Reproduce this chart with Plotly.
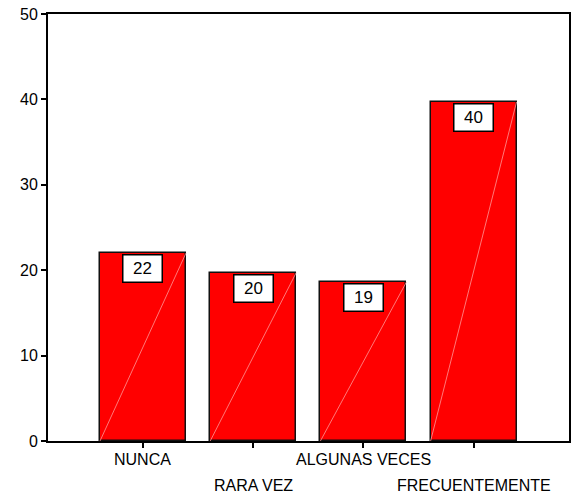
import plotly.graph_objects as go

categories = ["NUNCA", "RARA VEZ", "ALGUNAS VECES", "FRECUENTEMENTE"]
values = [22.0, 19.7, 18.6, 39.7]
value_labels = ["22", "20", "19", "40"]
y_ticks = [0, 10, 20, 30, 40, 50]

BAR_W = 0.78
FONT = "Liberation Sans, Arial, sans-serif"
xs = list(range(len(categories)))

fig = go.Figure()
fig.add_trace(go.Bar(
    x=xs, y=values, width=BAR_W,
    marker=dict(color="#ff0000", line=dict(color="#111111", width=1.5)),
    hoverinfo="skip", showlegend=False,
))

shapes = []
for i, v in zip(xs, values):
    shapes.append(dict(type="line", xref="x", yref="y",
                       x0=i - BAR_W / 2, y0=0, x1=i + BAR_W / 2, y1=v,
                       line=dict(color="rgba(255,150,150,0.8)", width=1)))

annotations = []
for i, v, lab in zip(xs, values, value_labels):
    annotations.append(dict(x=i, y=v, xref="x", yref="y", text=lab,
                            showarrow=False, yanchor="top", yshift=-1,
                            width=36, height=24, borderpad=1,
                            bgcolor="white", bordercolor="black", borderwidth=1.5,
                            font=dict(family=FONT, size=17, color="black")))
for i, c in zip(xs, categories):
    annotations.append(dict(x=i, y=0, xref="x", yref="paper", text=c,
                            showarrow=False, yanchor="middle",
                            yshift=-18 if i % 2 == 0 else -44,
                            font=dict(family=FONT, size=16, color="black")))

fig.update_layout(
    width=574, height=495,
    margin=dict(l=48, r=3, t=14, b=54),
    paper_bgcolor="white", plot_bgcolor="white",
    shapes=shapes, annotations=annotations,
    bargap=0,
)
fig.update_xaxes(range=[-0.862, 3.866], tickvals=xs, showticklabels=False,
                 ticks="outside", ticklen=5, tickwidth=1.5, tickcolor="black",
                 showline=True, linecolor="black", linewidth=2, mirror=True,
                 showgrid=False, zeroline=False)
fig.update_yaxes(range=[0, 50], tickvals=y_ticks,
                 ticks="outside", ticklen=5, tickwidth=1.5, tickcolor="black",
                 tickfont=dict(family=FONT, size=16, color="black"),
                 showline=True, linecolor="black", linewidth=2, mirror=True,
                 showgrid=False, zeroline=False)

fig.write_html("out.html")
